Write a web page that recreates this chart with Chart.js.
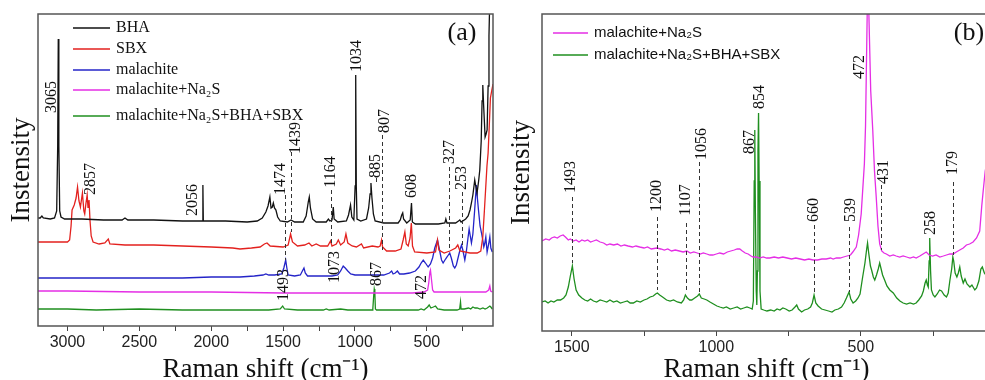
<!DOCTYPE html>
<html>
<head>
<meta charset="utf-8">
<script src="https://cdn.jsdelivr.net/npm/chart.js@4.4.1/dist/chart.umd.min.js"></script>
<style>
  html, body { margin: 0; padding: 0; background: #fff; overflow: hidden; }
  #wrap { position: relative; width: 985px; height: 380px; overflow: hidden; }
  #left { position: absolute; left: 0; top: 0; }
  #right { position: absolute; left: 500px; top: 0; }
</style>
</head>
<body>
<div id="wrap">
  <canvas id="left" width="500" height="380"></canvas>
  <canvas id="right" width="500" height="380"></canvas>
</div>
<script>
// ---- series, [Raman shift cm-1, intensity (arb.)] ----
const bha = [[3205,108],[3190,108],[3178,110],[3168,108],[3120,107],[3090,108],[3075,115],[3068,180],[3064,287],[3060,180],[3054,115],[3045,109],[3020,107],[2900,107],[2750,106],[2620,106],[2600,108],[2580,106],[2400,106],[2200,105],[2064,105],[2058,141],[2055,105],[1900,105],[1750,104],[1680,105],[1645,108],[1620,114],[1605,120],[1592,129],[1584,118],[1575,119],[1568,123],[1560,118],[1550,116],[1538,109],[1520,105],[1470,104],[1445,106],[1420,104],[1360,104],[1340,110],[1325,124],[1318,129],[1310,118],[1295,107],[1270,104],[1200,104],[1185,107],[1175,105],[1160,106],[1151,119],[1145,107],[1120,104],[1060,105],[1045,111],[1031,121],[1022,109],[1008,106],[999,140],[995,251],[991,140],[986,107],[960,105],[920,107],[905,118],[895,132],[889,143],[882,128],[872,112],[860,105],[800,103],[700,103],[685,106],[675,111],[668,113],[662,107],[640,103],[616,106],[607,123],[601,104],[580,102],[420,102],[375,103],[368,107],[360,103],[300,103],[280,105],[271,106],[262,104],[230,107],[213,110],[200,116],[190,123],[180,131],[167,146],[160,140],[151,133],[140,145],[132,156],[122,185],[116,225],[111,241],[105,220],[95,189],[88,192],[81,196],[74,240],[68,290],[62,330],[50,330],[40,330]];

const sbx = [[3205,84],[3100,84],[3000,84],[2985,86],[2975,100],[2968,116],[2953,121],[2940,128],[2930,139],[2920,125],[2910,119],[2896,133],[2886,115],[2880,112],[2872,122],[2863,131],[2857,118],[2850,126],[2843,105],[2835,90],[2822,84],[2780,82],[2740,83],[2716,87],[2705,82],[2600,81],[2400,81],[2200,80],[2000,79],[1850,78],[1800,77],[1720,78],[1660,79],[1630,82],[1612,83],[1590,80],[1500,79],[1465,81],[1448,92],[1435,84],[1400,80],[1350,81],[1320,83],[1300,80],[1270,82],[1240,80],[1190,80],[1170,85],[1160,80],[1130,82],[1116,86],[1100,81],[1075,84],[1063,92],[1050,83],[1020,80],[990,79],[955,82],[940,78],[880,80],[840,79],[825,80],[815,86],[808,79],[780,75],[720,75],[680,77],[665,86],[653,94],[643,82],[630,80],[617,88],[608,103],[600,80],[585,74],[500,73],[440,74],[426,86],[416,76],[380,73],[340,75],[300,78],[285,81],[270,75],[200,73],[150,73],[125,75],[111,89],[100,115],[90,140],[82,160],[74,173],[66,200],[58,228],[48,236],[40,242]];

const malachite = [[3205,48],[3000,48],[2800,48],[2500,48],[2200,48],[2000,49],[1800,49],[1700,50],[1640,51],[1620,52],[1600,51],[1560,51],[1510,52],[1495,58],[1482,66],[1474,58],[1465,51],[1420,50],[1380,51],[1366,55],[1355,58],[1346,53],[1330,50],[1250,50],[1160,50],[1120,51],[1100,55],[1082,60],[1068,58],[1050,55],[1030,52],[1000,51],[950,51],[880,51],[800,51],[760,53],[745,55],[735,52],[720,53],[705,55],[690,52],[660,52],[620,53],[580,55],[555,59],[540,63],[525,66],[510,63],[491,59],[475,62],[460,68],[445,78],[426,86],[412,76],[398,66],[387,63],[370,67],[355,70],[341,73],[330,68],[316,60],[306,58],[295,61],[280,70],[268,77],[259,81],[250,76],[236,66],[225,75],[214,88],[206,97],[198,90],[190,83],[180,92],[168,115],[160,132],[155,141],[150,130],[141,116],[130,100],[120,93],[110,85],[104,79],[98,82],[90,89],[81,74],[70,82],[62,89],[55,78],[45,74]];

const na2s = [[3205,35],[3000,35],[2500,34],[2000,34],[1500,33],[1000,33],[600,33],[520,34],[495,36],[487,43],[479,54],[475,56],[469,48],[460,36],[450,34],[300,34],[200,34],[90,34],[70,36],[62,40],[56,35],[45,34]];

const mixture = [[3205,17],[3000,17],[2800,16],[2500,17],[2200,16],[1900,16],[1600,16],[1520,17],[1503,20],[1490,17],[1400,16],[1220,16],[1200,17],[1180,16],[1100,17],[1050,16],[880,16],[876,17],[870,30],[866,37],[862,34],[858,17],[850,16],[700,16],[560,16],[540,17],[520,16],[495,19],[484,21],[472,18],[455,19],[440,20],[425,17],[380,16],[290,16],[272,17],[266,24],[262,17],[240,17],[210,18],[195,17],[180,19],[165,18],[150,18],[130,17],[110,18],[95,17],[80,18],[62,20],[55,19],[45,17]];

const na2sB = [[1603,90],[1590,92],[1578,91],[1570,93],[1560,94],[1550,93],[1540,95],[1530,96],[1522,94],[1512,91],[1505,92],[1495,90],[1485,91],[1475,89],[1465,91],[1455,90],[1445,91],[1435,89],[1425,90],[1415,91],[1402,89],[1390,88],[1379,86],[1368,87],[1355,86],[1342,87],[1330,85],[1318,86],[1305,85],[1290,84],[1278,85],[1265,84],[1250,83],[1238,84],[1225,82],[1206,83],[1192,82],[1180,81],[1168,82],[1155,80],[1142,81],[1128,80],[1115,79],[1102,80],[1090,78],[1078,79],[1066,78],[1056,77],[1045,78],[1033,77],[1022,76],[1012,76],[1000,77],[988,78],[975,77],[962,79],[950,80],[938,81],[928,82],[919,82],[910,80],[900,78],[890,77],[880,75],[873,74],[862,74],[850,73],[838,74],[826,73],[815,73],[800,74],[785,73],[770,74],[755,73],[740,72],[725,73],[710,72],[695,71],[680,72],[665,71],[650,71],[635,72],[620,72],[605,73],[596,72],[585,73],[572,73],[560,74],[548,75],[536,76],[528,79],[516,84],[508,96],[499,117],[488,167],[484,205],[476,360],[466,240],[459,201],[453,160],[447,134],[441,105],[435,87],[428,80],[420,78],[412,77],[400,75],[388,76],[378,75],[366,74],[354,75],[342,74],[330,73],[318,74],[309,73],[296,75],[285,77],[274,79],[264,76],[252,75],[240,76],[227,74],[215,75],[204,76],[192,77],[181,77],[170,79],[158,81],[146,83],[135,86],[124,87],[112,89],[100,93],[89,100],[82,125],[77,140],[70,160],[60,175]];

const mixtureB = [[1603,29],[1592,30],[1582,28],[1572,30],[1562,29],[1550,31],[1539,31],[1528,33],[1520,36],[1512,44],[1505,55],[1498,65],[1492,52],[1485,41],[1476,36],[1465,33],[1455,31],[1445,30],[1435,32],[1425,30],[1414,29],[1402,31],[1390,30],[1379,29],[1368,31],[1356,29],[1344,30],[1332,28],[1320,29],[1308,30],[1298,28],[1287,28],[1275,30],[1263,29],[1250,31],[1240,32],[1229,34],[1218,35],[1210,37],[1204,38],[1196,36],[1186,34],[1172,31],[1160,30],[1148,31],[1135,29],[1121,28],[1113,31],[1107,36],[1100,33],[1092,31],[1085,31],[1075,33],[1065,35],[1059,37],[1052,33],[1042,32],[1033,31],[1022,29],[1010,27],[998,25],[988,24],[976,23],[965,24],[952,22],[940,23],[928,24],[916,22],[905,23],[894,24],[884,23],[876,22],[872,30],[869,150],[867,201],[865,120],[862,40],[860,26],[858,60],[856,180],[854,218],[852,150],[849,40],[845,22],[836,21],[825,20],[812,21],[800,20],[790,22],[780,21],[770,23],[760,22],[748,20],[738,21],[728,24],[722,26],[716,22],[705,19],[695,21],[684,22],[674,24],[668,28],[662,36],[656,28],[648,25],[636,22],[624,21],[612,20],[600,19],[590,21],[578,22],[567,24],[558,28],[550,33],[541,39],[535,32],[527,28],[518,30],[510,33],[503,37],[495,52],[486,68],[480,82],[477,88],[473,78],[467,65],[463,61],[457,54],[452,51],[446,56],[440,62],[435,68],[430,62],[425,56],[418,51],[410,45],[400,41],[388,38],[376,33],[365,30],[354,28],[342,27],[330,28],[318,27],[309,28],[300,31],[290,35],[284,40],[278,48],[274,51],[270,46],[267,44],[264,70],[262,93],[259,60],[256,41],[250,36],[244,34],[236,37],[228,41],[221,40],[212,36],[204,34],[198,38],[192,51],[186,62],[182,74],[179,70],[174,58],[168,54],[163,58],[158,64],[153,55],[146,48],[140,52],[133,47],[123,44],[116,46],[106,41],[100,43],[92,50],[85,62],[80,64],[73,58],[65,55]];

const names = ['BHA', 'SBX', 'malachite', 'malachite+Na\u2082S', 'malachite+Na\u2082S+BHA+SBX'];
const colors = ['#111111', '#e3211e', '#2424c8', '#e52ee5', '#1f8f1f'];

// ---- axis ticks ----
const leftTicks = [250, 500, 750, 1000, 1250, 1500, 1750, 2000, 2250, 2500, 2750, 3000];
const rightTicks = [250, 500, 750, 1000, 1250, 1500];

// ---- peak annotations: [text, shift, intensity] and dashed guides: [shift, from, to] ----
const leftLabels = [['3065',3106,229],['2857',2835,147],['2056',2127,126],['1474',1515,147],['1439',1411,188],['1164',1167,154],['1034',987,270],['885',855,160],['807',792,205],['608',604,140],['327',341,174],['253',257,148],['1073',1140,59],['867',848,52],['1493',1494,41],['472',535,39]];
const leftDashes = [[1485,131,66],[1447,174,94],[1167,136,83],[855,148,144],[813,191,76],[345,159,76],[259,134,79]];
const rightLabels = [['1493',1502,154],['1200',1205,135],['1107',1105,131],['1056',1050,187],['867',883,189],['854',849,234],['472',504,264],['431',420,159],['660',662,121],['539',534,121],['258',258,108],['179',181,168]];
const rightDashes = [[1498,134,68],[1204,114,41],[1106,108,38],[1059,169,38],[432,146,81],[662,106,36],[540,104,39],[183,149,76]];

const serif = "'Liberation Serif', 'Times New Roman', serif";
const sans = "'Liberation Sans', Arial, sans-serif";

const makeDecor = (opt) => ({
  id: 'decor',
  afterDatasetsDraw(chart) {
    const { ctx, chartArea: a } = chart;
    const x = chart.scales.x, y = chart.scales.y;
    ctx.save();
    ctx.strokeStyle = '#555';
    ctx.lineWidth = 1.5;
    ctx.strokeRect(a.left, a.top, a.right - a.left, a.bottom - a.top);

    ctx.setLineDash([4, 3]);
    ctx.lineWidth = 1;
    ctx.strokeStyle = '#333';
    opt.dashes.forEach(([v, y0, y1]) => {
      const px = Math.round(x.getPixelForValue(v)) + 0.5;
      ctx.beginPath();
      ctx.moveTo(px, y.getPixelForValue(y0));
      ctx.lineTo(px, y.getPixelForValue(y1));
      ctx.stroke();
    });
    ctx.setLineDash([]);

    ctx.fillStyle = '#111';
    ctx.font = '16px ' + serif;
    ctx.textAlign = 'center';
    ctx.textBaseline = 'middle';
    opt.labels.forEach(([t, v, val]) => {
      ctx.save();
      ctx.translate(x.getPixelForValue(v), y.getPixelForValue(val));
      ctx.rotate(-Math.PI / 2);
      ctx.fillText(t, 0, 0);
      ctx.restore();
    });

    ctx.font = '26px ' + serif;
    ctx.fillText(opt.panel, a.right + opt.panelDx, a.top + 19);

    // legend
    ctx.textAlign = 'left';
    ctx.font = opt.legendFont;
    chart.data.datasets.forEach((ds, i) => {
      const ly = opt.legendRows[i];
      ctx.strokeStyle = ds.borderColor;
      ctx.lineWidth = 1.3;
      ctx.beginPath();
      ctx.moveTo(opt.legendX[0], ly);
      ctx.lineTo(opt.legendX[1], ly);
      ctx.stroke();
      ctx.fillStyle = '#111';
      ctx.fillText(ds.label, opt.legendX[1] + 6, ly);
    });
    ctx.restore();
  }
});

const series = (label, pts, color) => ({
  label,
  data: pts.map(([x, y]) => ({ x, y })),
  borderColor: color,
  borderWidth: 1.3,
  pointRadius: 0,
  fill: false,
  tension: 0,
});

const axes = (min, max, ymax, ticks, xh, yw, ytPad) => ({
  x: {
    type: 'linear', reverse: true, min, max,
    afterBuildTicks: (s) => { s.ticks = ticks.map((v) => ({ value: v })); },
    ticks: {
      autoSkip: false, maxRotation: 0, padding: 2, color: '#222',
      font: { family: sans, size: 16 },
      callback: (v) => (v % 500 === 0 ? String(v) : ''),
    },
    grid: { drawOnChartArea: false, drawTicks: true, tickLength: 5, color: '#444' },
    border: { display: false },
    title: {
      display: true, text: 'Raman shift (cm\u207B\u00B9)', color: '#111',
      font: { family: serif, size: 27, lineHeight: 0.75 }, padding: 0,
    },
    afterFit: (s) => { s.height = xh; },
  },
  y: {
    min: 0, max: ymax,
    ticks: { display: false },
    grid: { display: false },
    border: { display: false },
    title: {
      display: true, text: 'Instensity', color: '#111',
      font: { family: serif, size: 27 }, padding: { top: ytPad, bottom: 0 },
    },
    afterFit: (s) => { s.width = yw; },
  },
});

new Chart(document.getElementById('left'), {
  type: 'line',
  data: {
    datasets: [
      series(names[0], bha, colors[0]),
      series(names[1], sbx, colors[1]),
      series(names[2], malachite, colors[2]),
      series(names[3], na2s, colors[3]),
      series(names[4], mixture, colors[4]),
    ],
  },
  options: {
    responsive: false,
    animation: false,
    devicePixelRatio: 1,
    layout: { padding: { left: 0, right: 7, top: 14, bottom: 0 } },
    plugins: { legend: { display: false }, tooltip: { enabled: false } },
    scales: axes(40, 3205, 312, leftTicks, 54, 38, 6),
  },
  plugins: [makeDecor({
    labels: leftLabels, dashes: leftDashes, panel: '(a)', panelDx: -31,
    legendFont: '16px ' + serif, legendRows: [28, 49, 70, 90, 116], legendX: [73, 110],
  })],
});

new Chart(document.getElementById('right'), {
  type: 'line',
  data: {
    datasets: [
      series(names[3], na2sB, colors[3]),
      series(names[4], mixtureB, colors[4]),
    ],
  },
  options: {
    responsive: false,
    animation: false,
    devicePixelRatio: 1,
    layout: { padding: { left: 0, right: 9, top: 14, bottom: 0 } },
    plugins: { legend: { display: false }, tooltip: { enabled: false } },
    scales: axes(50, 1603, 317, rightTicks, 49, 42, 6),
  },
  plugins: [makeDecor({
    labels: rightLabels, dashes: rightDashes, panel: '(b)', panelDx: -22,
    legendFont: '15px ' + sans, legendRows: [33, 55], legendX: [53, 88],
  })],
});
</script>
</body>
</html>
